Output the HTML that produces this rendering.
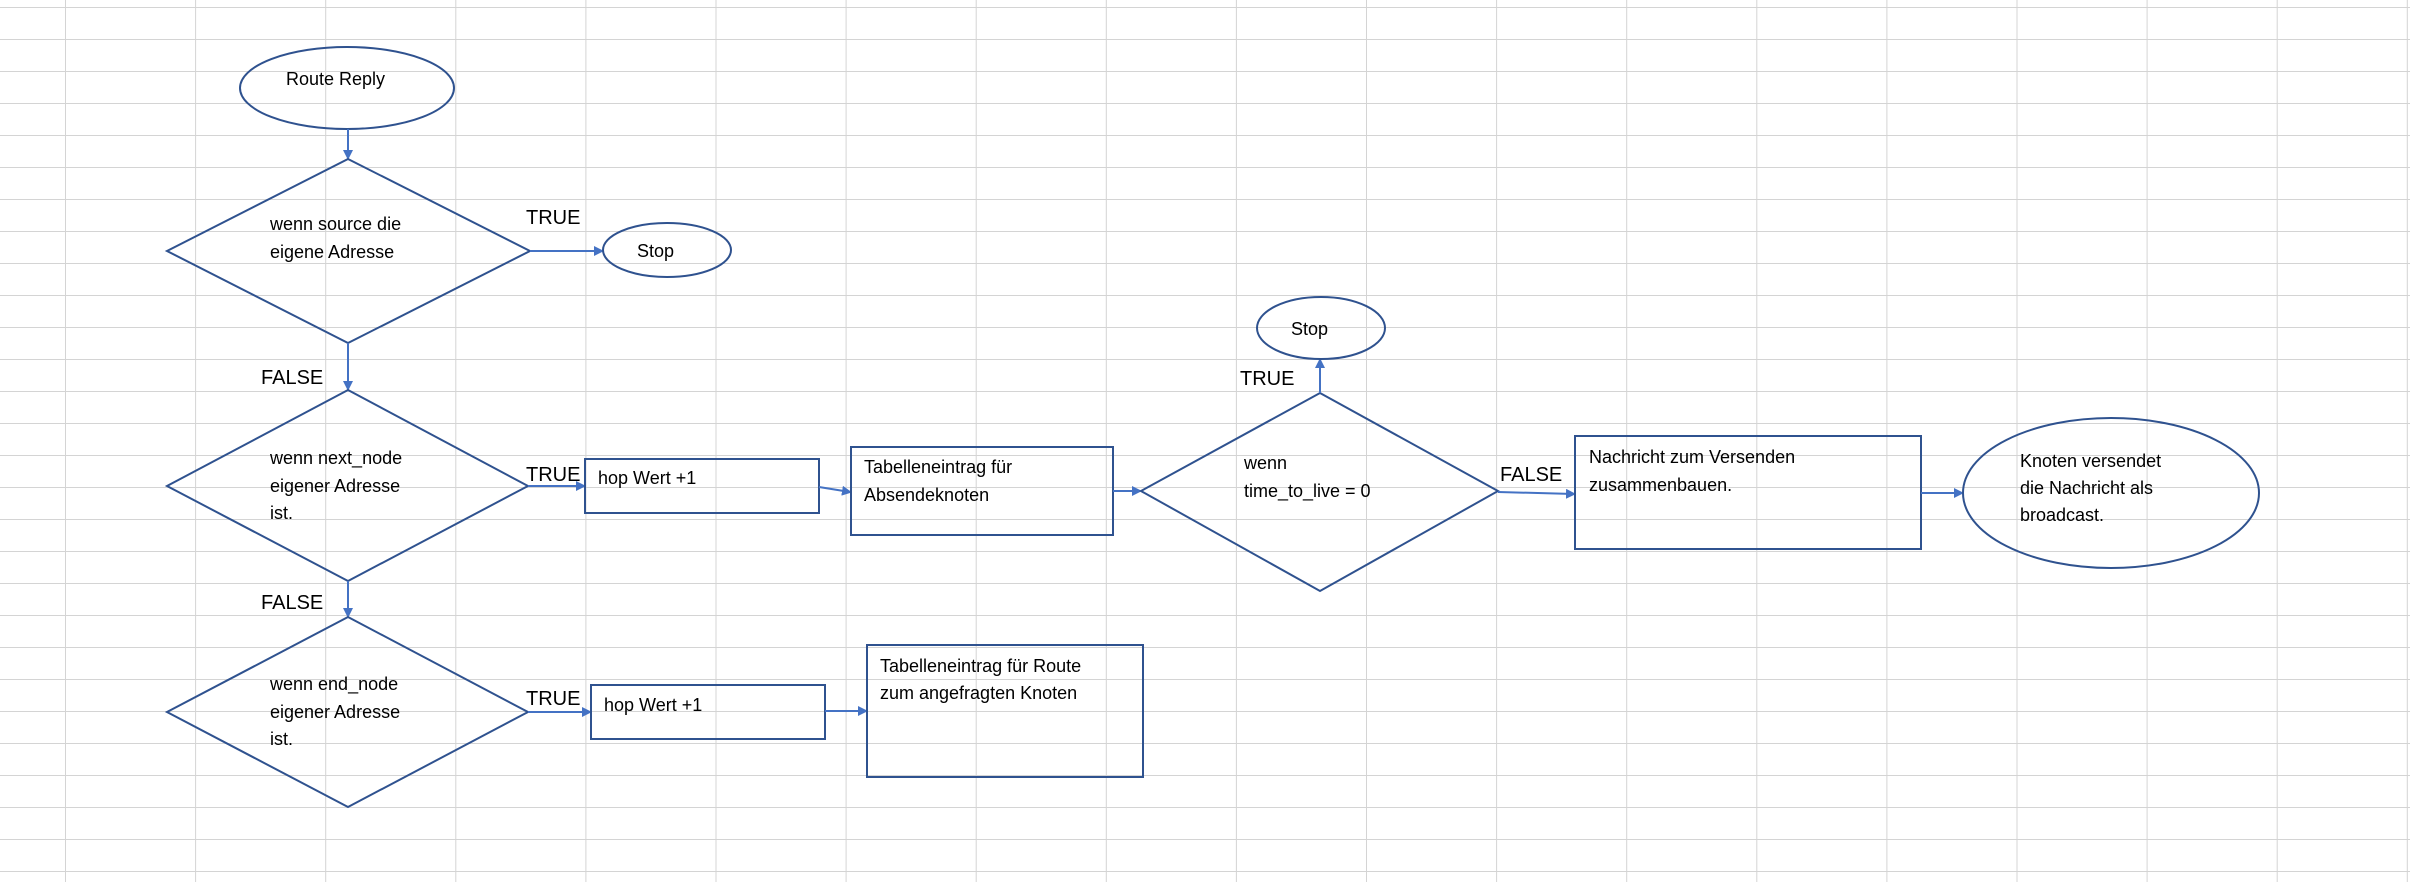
<!DOCTYPE html>
<html><head><meta charset="utf-8"><style>
html,body{margin:0;padding:0;background:#fff;}
svg{display:block;}
text{font-family:"Liberation Sans",sans-serif;fill:#000;}
.n{font-size:18px;}
.l{font-size:20px;}
.s{fill:none;stroke:#2f528f;stroke-width:2;}
.a{fill:none;stroke:#4472c4;stroke-width:2;}
</style></head><body>
<svg width="2410" height="882" viewBox="0 0 2410 882" xmlns="http://www.w3.org/2000/svg">
<defs>
<marker id="ar" markerWidth="10" markerHeight="10" refX="8" refY="5" orient="auto" markerUnits="userSpaceOnUse">
<path d="M0,0 L10,5 L0,10 z" fill="#4472c4"/>
</marker>
<pattern id="g" width="130.1" height="32" patternUnits="userSpaceOnUse" x="65" y="7">
<path d="M0,0 V32 M0,0 H130.1" stroke="#d4d4d4" stroke-width="2" fill="none"/>
</pattern>
</defs>
<rect x="0" y="0" width="2410" height="882" fill="url(#g)"/>
<rect x="0" y="0" width="65" height="882" fill="none"/>

<!-- Route Reply -->
<ellipse cx="347" cy="88" rx="107" ry="41" fill="#fff" class="s"/>
<text x="286" y="85" class="n">Route Reply</text>
<line x1="348" y1="129" x2="348" y2="158" class="a" marker-end="url(#ar)"/>

<!-- Diamond 1 -->
<polygon points="348,159 530,251 348,343 167,251" fill="#fff" class="s"/>
<text x="270" y="230" class="n">wenn source die</text>
<text x="270" y="258" class="n">eigene Adresse</text>
<text x="526" y="224" class="l">TRUE</text>
<line x1="530" y1="251" x2="602" y2="251" class="a" marker-end="url(#ar)"/>
<ellipse cx="667" cy="250" rx="64" ry="27" fill="#fff" class="s"/>
<text x="637" y="257" class="n">Stop</text>

<text x="261" y="384" class="l">FALSE</text>
<line x1="348" y1="343" x2="348" y2="389" class="a" marker-end="url(#ar)"/>

<!-- Diamond 2 -->
<polygon points="348,390 528,486 348,581 167,486" fill="#fff" class="s"/>
<text x="270" y="464" class="n">wenn next_node</text>
<text x="270" y="492" class="n">eigener Adresse</text>
<text x="270" y="519" class="n">ist.</text>
<text x="526" y="481" class="l">TRUE</text>
<line x1="528" y1="486" x2="584" y2="486" class="a" marker-end="url(#ar)"/>
<rect x="585" y="459" width="234" height="54" fill="#fff" class="s"/>
<text x="598" y="484" class="n">hop Wert +1</text>
<line x1="819" y1="487" x2="850" y2="492" class="a" marker-end="url(#ar)"/>
<rect x="851" y="447" width="262" height="88" fill="#fff" class="s"/>
<text x="864" y="473" class="n">Tabelleneintrag für</text>
<text x="864" y="501" class="n">Absendeknoten</text>
<line x1="1113" y1="491" x2="1140" y2="491" class="a" marker-end="url(#ar)"/>

<text x="261" y="609" class="l">FALSE</text>
<line x1="348" y1="581" x2="348" y2="616" class="a" marker-end="url(#ar)"/>

<!-- Diamond 3 -->
<polygon points="348,617 528,712 348,807 167,712" fill="#fff" class="s"/>
<text x="270" y="690" class="n">wenn end_node</text>
<text x="270" y="718" class="n">eigener Adresse</text>
<text x="270" y="745" class="n">ist.</text>
<text x="526" y="705" class="l">TRUE</text>
<line x1="528" y1="712" x2="590" y2="712" class="a" marker-end="url(#ar)"/>
<rect x="591" y="685" width="234" height="54" fill="#fff" class="s"/>
<text x="604" y="711" class="n">hop Wert +1</text>
<line x1="825" y1="711" x2="866" y2="711" class="a" marker-end="url(#ar)"/>
<rect x="867" y="645" width="276" height="132" fill="#fff" class="s"/>
<text x="880" y="672" class="n">Tabelleneintrag für Route</text>
<text x="880" y="699" class="n">zum angefragten Knoten</text>

<!-- Diamond 4 -->
<polygon points="1320,393 1498,491 1320,591 1141,491" fill="#fff" class="s"/>
<text x="1244" y="469" class="n">wenn</text>
<text x="1244" y="497" class="n">time_to_live = 0</text>
<line x1="1320" y1="393" x2="1320" y2="360" class="a" marker-end="url(#ar)"/>
<text x="1240" y="385" class="l">TRUE</text>
<ellipse cx="1321" cy="328" rx="64" ry="31" fill="#fff" class="s"/>
<text x="1291" y="335" class="n">Stop</text>
<text x="1500" y="481" class="l">FALSE</text>
<line x1="1498" y1="492" x2="1574" y2="494" class="a" marker-end="url(#ar)"/>
<rect x="1575" y="436" width="346" height="113" fill="#fff" class="s"/>
<text x="1589" y="463" class="n">Nachricht zum Versenden</text>
<text x="1589" y="491" class="n">zusammenbauen.</text>
<line x1="1921" y1="493" x2="1962" y2="493" class="a" marker-end="url(#ar)"/>
<ellipse cx="2111" cy="493" rx="148" ry="75" fill="#fff" class="s"/>
<text x="2020" y="467" class="n">Knoten versendet</text>
<text x="2020" y="494" class="n">die Nachricht als</text>
<text x="2020" y="521" class="n">broadcast.</text>
</svg>
</body></html>
